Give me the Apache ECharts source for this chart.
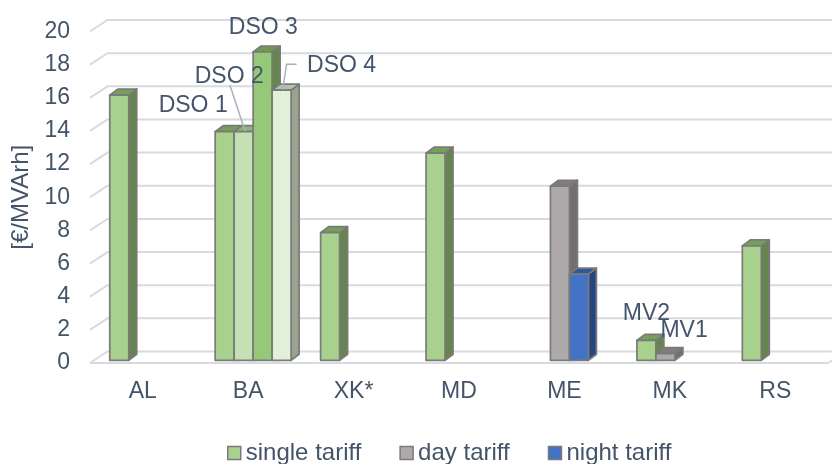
<!DOCTYPE html>
<html>
<head>
<meta charset="utf-8">
<script src="https://cdn.jsdelivr.net/npm/echarts@6/dist/echarts.min.js"></script>
<style>
  html, body { margin: 0; padding: 0; background: #ffffff; }
  #chart { width: 832px; height: 464px; }
</style>
</head>
<body>
<div id="chart"></div>
<script>
// Reactive energy tariffs by country, €/MVArh
const categories = ['AL', 'BA', 'XK*', 'MD', 'ME', 'MK', 'RS'];

// One array per column position inside a country group
const singleTariff = [16.0, 13.8, 7.7, 12.5, null, 1.2, 6.9];   // single tariff / DSO 1 / MV2
const dayTariff    = [null, 13.8, null, null, 10.5, 0.4, null]; // day tariff / DSO 2 / MV1
const nightTariff  = [null, 18.6, null, null, 5.2, null, null]; // night tariff / DSO 3
const fourthColumn = [null, 16.3, null, null, null, null, null]; // DSO 4

const columnLabels = [
  [null, 'DSO 1', null, null, null, 'MV2', null],
  [null, 'DSO 2', null, null, null, 'MV1', null],
  [null, 'DSO 3', null, null, null, null, null],
  [null, 'DSO 4', null, null, null, null, null]
];

const yTicks = [0, 2, 4, 6, 8, 10, 12, 14, 16, 18, 20];
const seriesNames = ['single tariff', 'day tariff', 'night tariff', 'DSO 4'];
const axisTitle = '[€/MVArh]';

// ---- styling ----
const TEXT = '#44546A';
const FONT = '"Liberation Sans", Arial, sans-serif';
const EDGE = '#7A7A7A';
const GRID = '#D9DADE';

const PALETTE = {
  green:  { front: '#A9D18E', top: '#75A057', side: '#66844D' },
  green2: { front: '#C5E0B4', top: '#8FB578', side: '#7A9866' },
  green3: { front: '#96C879', top: '#6E9A50', side: '#64884A' },
  green4: { front: '#E2F0D9', top: '#B4C2AC', side: '#98A48F' },
  gray:   { front: '#AEAAAA', top: '#807C7C', side: '#736F6F' },
  blue:   { front: '#4472C4', top: '#31579C', side: '#264683' }
};
const colourOf = [
  ['green', 'green', 'green', 'green', null, 'green', 'green'],
  [null, 'green2', null, null, 'gray', 'gray', null],
  [null, 'green3', null, null, 'blue', null, null],
  [null, 'green4', null, null, null, null, null]
];
const legendColour = ['green', 'gray', 'blue', 'green4'];

// oblique projection: back wall offset, column plane offset, column depth
const WALL_DX = 17.5, WALL_DY = -11.5;
const COL_DX = 5, COL_DY = -2.7;
const DEPTH_DX = 8, DEPTH_DY = -6;
const COL_FRACTION = 0.18;

const LABEL_LAYOUT = {
  'DSO 1': { dx: -31.5, dy: -25.7 },
  'DSO 2': { dx: -14.4, dy: -55.4, leader: [[-13.7, -46.4], [1.6, 0]] },
  'DSO 3': { dx: 0.7, dy: -24.8 },
  'DSO 4': { dx: 60, dy: -24.8, leader: [[15, -26], [5, -26], [1, -0.3]] },
  'MV2':   { dx: 0, dy: -26.7 },
  'MV1':   { dx: 18.7, dy: -23 }
};

function columnRenderer(col) {
  return function (params, api) {
    const v = api.value(1);
    if (v == null || isNaN(v)) return null;
    const ci = api.value(0);
    const base = api.coord([ci, 0]);
    const tip = api.coord([ci, v]);
    const band = api.size([1, 0])[0];
    const w = band * COL_FRACTION;
    const x0 = base[0] + COL_DX + (col - 2) * w;
    const x1 = x0 + w;
    const yb = base[1] + COL_DY;
    const yt = tip[1] + COL_DY;
    const pal = PALETTE[colourOf[col][params.dataIndex]];
    const stroke = { stroke: EDGE, lineWidth: 1.7, lineJoin: 'round' };
    const children = [
      {
        type: 'polygon',
        shape: { points: [[x1, yb], [x1, yt], [x1 + DEPTH_DX, yt + DEPTH_DY], [x1 + DEPTH_DX, yb + DEPTH_DY]] },
        style: Object.assign({ fill: pal.side }, stroke)
      },
      {
        type: 'polygon',
        shape: { points: [[x0, yt], [x1, yt], [x1 + DEPTH_DX, yt + DEPTH_DY], [x0 + DEPTH_DX, yt + DEPTH_DY]] },
        style: Object.assign({ fill: pal.top }, stroke)
      },
      {
        type: 'rect',
        shape: { x: x0, y: yt, width: w, height: yb - yt },
        style: Object.assign({ fill: pal.front }, stroke)
      }
    ];
    const name = columnLabels[col][params.dataIndex];
    if (name) {
      const lay = LABEL_LAYOUT[name];
      const cx = (x0 + x1) / 2;
      if (lay.leader) {
        children.push({
          type: 'polyline',
          shape: { points: lay.leader.map(p => [cx + p[0], yt + p[1]]) },
          style: { stroke: '#A9B1BC', lineWidth: 1.5, fill: null },
          z2: 20
        });
      }
      children.push({
        type: 'text',
        style: {
          x: cx + lay.dx, y: yt + lay.dy, text: name,
          fill: TEXT, font: '23px ' + FONT,
          align: 'center', verticalAlign: 'middle'
        },
        z2: 30
      });
    }
    return { type: 'group', children: children };
  };
}

function gridRenderer(params, api) {
  const v = api.value(1);
  const cs = params.coordSys;
  const y = api.coord([0, v])[1];
  const gx = cs.x;
  const children = [{
    type: 'polyline',
    shape: { points: [[gx, y], [gx + WALL_DX, y + WALL_DY], [gx + WALL_DX + cs.width + 40, y + WALL_DY]] },
    style: { stroke: GRID, lineWidth: 2, fill: null }
  }];
  if (v === 0) {
    children.push({
      type: 'polyline',
      shape: { points: [[gx, y], [gx + cs.width, y], [gx + cs.width + WALL_DX, y + WALL_DY]] },
      style: { stroke: GRID, lineWidth: 2, fill: null }
    });
  }
  return { type: 'group', children: children };
}

const columns = [singleTariff, dayTariff, nightTariff, fourthColumn];

const series = [{
  type: 'custom',
  name: 'grid',
  silent: true,
  z: 1,
  renderItem: gridRenderer,
  encode: { x: 0, y: 1 },
  data: yTicks.map(t => [0, t])
}].concat(columns.map((vals, col) => ({
  type: 'custom',
  name: seriesNames[col],
  z: 2,
  itemStyle: { color: PALETTE[legendColour[col]].front },
  renderItem: columnRenderer(col),
  encode: { x: 0, y: 1 },
  data: vals.map((v, i) => [i, v == null ? '-' : v])
})));

const chart = echarts.init(document.getElementById('chart'), null, { renderer: 'canvas' });
chart.setOption({
  animation: false,
  backgroundColor: '#ffffff',
  textStyle: { fontFamily: FONT },
  grid: { left: 90, right: 4, top: 31.5, bottom: 101 },
  xAxis: {
    type: 'category',
    data: categories,
    axisLine: { show: false },
    axisTick: { show: false },
    splitLine: { show: false },
    axisLabel: { color: TEXT, fontSize: 23, fontFamily: FONT, margin: 17 }
  },
  yAxis: {
    type: 'value',
    min: 0, max: 20, interval: 2,
    axisLine: { show: false },
    axisTick: { show: false },
    splitLine: { show: false },
    axisLabel: { color: TEXT, fontSize: 23, fontFamily: FONT, margin: 20 },
    name: axisTitle,
    nameLocation: 'middle',
    nameRotate: 90,
    nameGap: 56,
    nameTextStyle: { color: TEXT, fontSize: 24, fontFamily: FONT }
  },
  legend: {
    data: seriesNames.slice(0, 3),
    left: 222,
    top: 436,
    icon: 'rect',
    itemWidth: 13,
    itemHeight: 13,
    itemGap: 38,
    itemStyle: { borderColor: EDGE, borderWidth: 1.5 },
    textStyle: { color: TEXT, fontSize: 24, fontFamily: FONT, lineHeight: 24 },
    selectedMode: false
  },
  series: series
});
</script>
</body>
</html>
